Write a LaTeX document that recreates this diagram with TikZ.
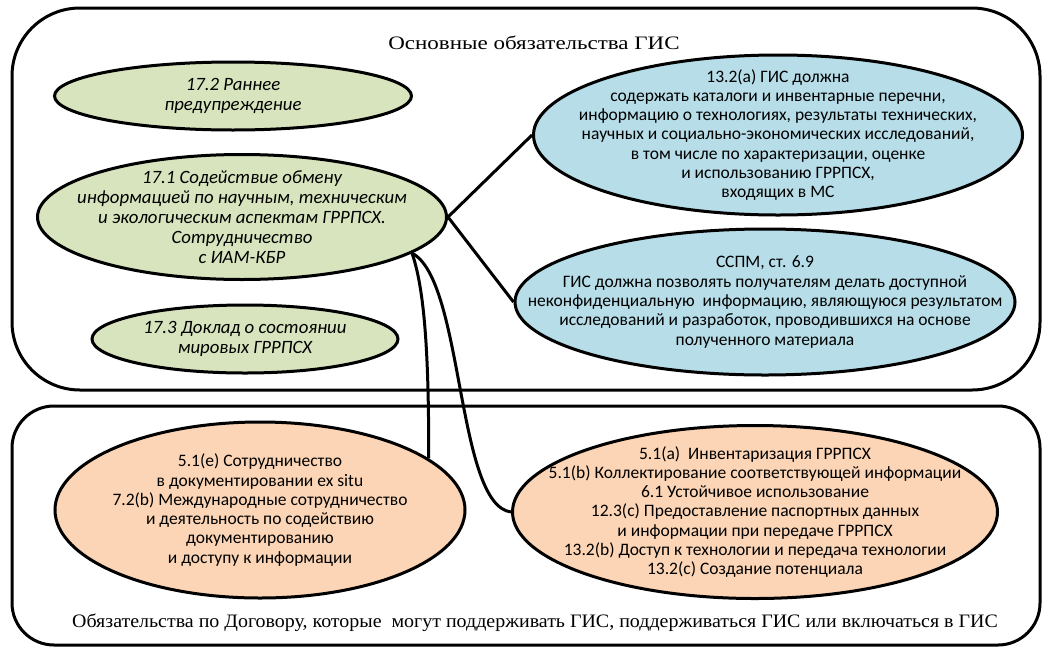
\documentclass[tikz,border=0pt]{standalone}
\usepackage{fontspec}
\setmainfont{Liberation Serif}
\newfontfamily\calib{Carlito}
\newfontfamily\ttlA[FakeStretch=1.21]{Liberation Serif}
\newfontfamily\ttlB[FakeStretch=1.05]{Liberation Serif}
\usetikzlibrary{shapes.geometric}
\definecolor{grn}{HTML}{D7E4BD}
\definecolor{blu}{HTML}{B7DDE8}
\definecolor{org}{HTML}{FBD5B5}
\begin{document}
\begin{tikzpicture}[x=1pt,y=-1pt,
  frame/.style={draw=black,line width=3pt},
  ell/.style={ellipse,draw=black,line width=3pt,inner sep=0pt},
  gell/.style={ell,fill=grn},
  bell/.style={ell,fill=blu},
  oell/.style={ell,fill=org},
  gtxt/.style={align=center,font=\calib\itshape\fontsize{18.8}{20}\selectfont},
  btxt/.style={align=center,font=\calib\fontsize{17.5}{19.3}\selectfont},
  conn/.style={draw=black,line width=3pt}]
\useasboundingbox (0,0) rectangle (1048,648);
% frames
\draw[frame,rounded corners=68pt] (12,8) rectangle (1040,390);
\draw[frame,rounded corners=42pt] (12,406) rectangle (1040,645);
\node[font=\ttlA\fontsize{19}{22}\selectfont] (t1) at (534,43) {Основные обязательства ГИС};
\node[font=\ttlB\fontsize{19}{22}\selectfont] (t2) at (535,623) {Обязательства по Договору, которые\ \ могут поддерживать ГИС, поддерживаться ГИС или включаться в ГИС};
% green
\node[gell,minimum width=357pt,minimum height=68pt] (g172) at (233,96) {};
\node[gtxt] (g172t) at (g172) {17.2 Раннее\\предупреждение};
\node[gell,minimum width=409pt,minimum height=125pt] (g171) at (242,217) {};
\node[gtxt] (g171t) at (g171) {17.1 Содействие обмену\\информацией по научным, техническим\\и экологическим аспектам ГРРПСХ.\\Сотрудничество\\с ИАМ-КБР};
\node[gell,minimum width=306pt,minimum height=68pt] (g173) at (245,339) {};
\node[gtxt] (g173t) at (g173) {17.3 Доклад о состоянии\\мировых ГРРПСХ};
% blue
\node[bell,minimum width=489pt,minimum height=160pt] (b1) at (778,135) {};
\node[btxt] (b1t) at (b1) {13.2(a) ГИС должна\\содержать каталоги и инвентарные перечни,\\информацию о технологиях, результаты технических,\\научных и социально-экономических исследований,\\в том числе по характеризации, оценке\\и использованию ГРРПСХ,\\входящих в МС};
\node[bell,minimum width=500pt,minimum height=146pt] (b2) at (765,302) {};
\node[btxt] (b2t) at (b2) {ССПМ, ст. 6.9\\ГИС должна позволять получателям делать доступной\\неконфиденциальную\ \ информацию, являющуюся результатом\\исследований и разработок, проводившихся на основе\\полученного материала};
% orange
\node[oell,minimum width=410pt,minimum height=176pt] (o1) at (260,510) {};
\node[btxt] (o1t) at (o1) {5.1(e) Сотрудничество\\в документировании ex situ\\7.2(b) Международные сотрудничество\\и деятельность по содействию\\документированию\\и доступу к информации};
\node[oell,minimum width=485pt,minimum height=173pt] (o2) at (755,512) {};
\node[btxt] (o2t) at (o2) {5.1(a)\ \ Инвентаризация ГРРПСХ\\5.1(b) Коллектирование соответствующей информации\\6.1 Устойчивое использование\\12.3(c) Предоставление паспортных данных\\и информации при передаче ГРРПСХ\\13.2(b) Доступ к технологии и передача технологии\\13.2(c) Создание потенциала};
% connectors
\draw[conn] (g171.east) -- (b1.west);
\draw[conn] (g171.east) -- (b2.west);
\draw[conn] (g171.-12) .. controls +(14,40) and +(0,-90) .. (o1.17);
\draw[conn] (g171.-12) .. controls +(52,27) and +(-55,-7) .. (o2.west);
\end{tikzpicture}
\end{document}
